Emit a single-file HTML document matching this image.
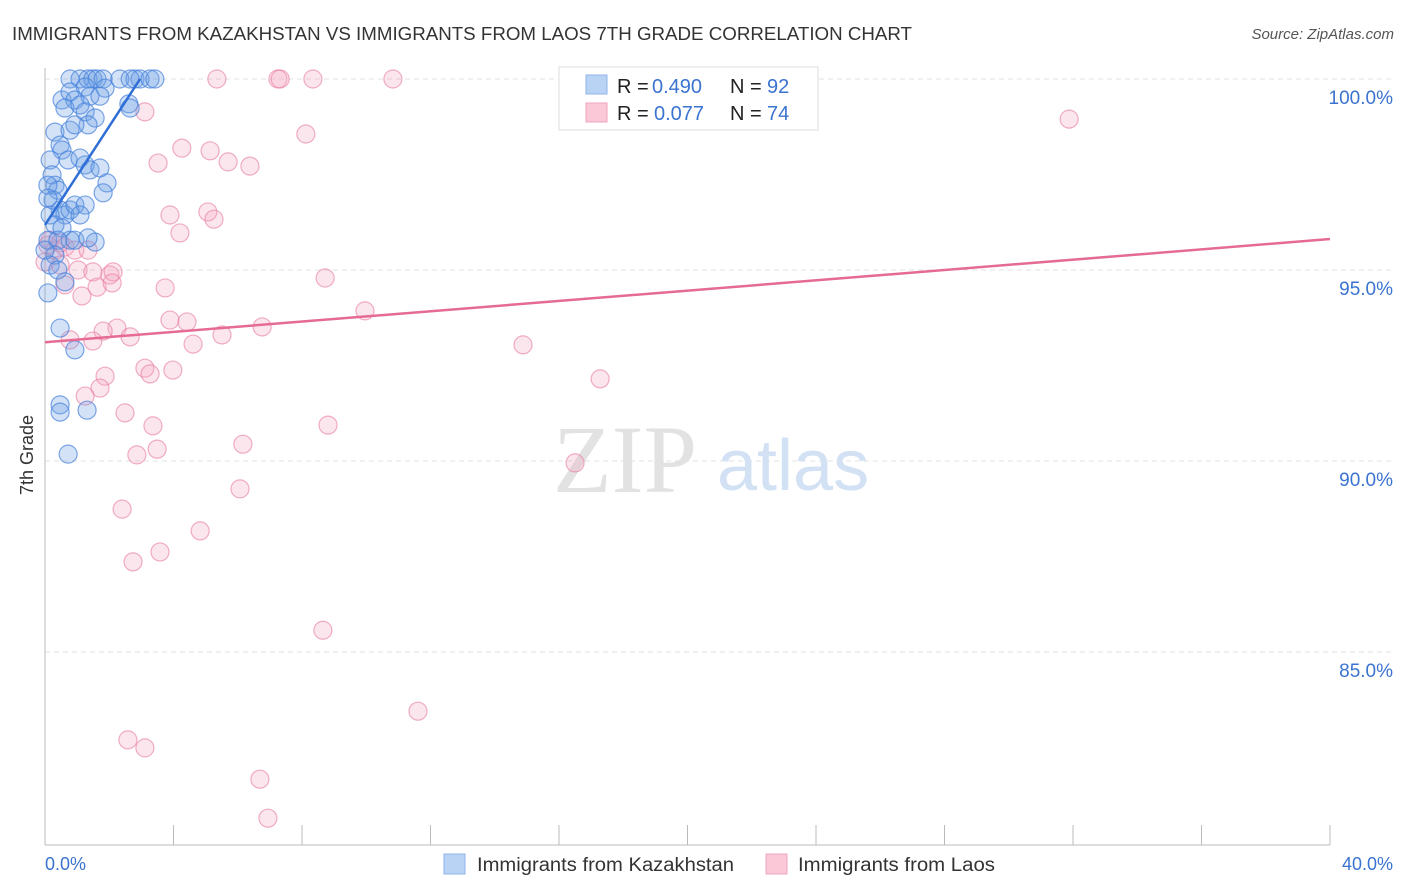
<!DOCTYPE html>
<html><head><meta charset="utf-8"><style>
body{margin:0;background:#fff;font-family:"Liberation Sans",sans-serif;}
svg{display:block}
</style></head><body>
<svg id="chart" width="1406" height="892" xmlns="http://www.w3.org/2000/svg">
<text x="12" y="40" font-size="18" fill="#333" textLength="900" lengthAdjust="spacingAndGlyphs">IMMIGRANTS FROM KAZAKHSTAN VS IMMIGRANTS FROM LAOS 7TH GRADE CORRELATION CHART</text>
<text x="1394" y="39" font-size="15" fill="#555" font-style="italic" text-anchor="end">Source: ZipAtlas.com</text>
<g id="grid"></g>
<g>
<text x="553" y="492" font-family="Liberation Serif,serif" font-size="96" fill="#e2e2e2">ZIP</text>
<text x="717" y="490" font-size="72" fill="#d3e1f4">atlas</text>
</g>
<line x1="45" y1="68" x2="45" y2="845" stroke="#bbb"/>
<line x1="45" y1="845" x2="1330" y2="845" stroke="#bbb"/>
<g id="xticks"></g>
<g id="yticks"></g>
<text transform="translate(33,455) rotate(-90)" font-size="18" fill="#333" text-anchor="middle">7th Grade</text>
<text x="45" y="870" font-size="18" fill="#3b73d0">0.0%</text>
<text x="1393" y="870" font-size="18" fill="#3b73d0" text-anchor="end">40.0%</text>
<g id="pink"></g>
<g id="blue"></g>
<g id="lines"></g>
<g>
<rect x="559" y="67" width="259" height="63" fill="#fff" stroke="#ddd"/>
<rect x="586" y="75" width="21" height="19" fill="#b9d3f5" stroke="#8fb3ea"/>
<rect x="586" y="103" width="21" height="19" fill="#fbc8d8" stroke="#f0a4bd"/>
<g font-size="20">
<text x="617" y="93" fill="#222">R =</text><text x="652" y="93" fill="#3b73d0">0.490</text>
<text x="730" y="93" fill="#222">N =</text><text x="767" y="93" fill="#3b73d0">92</text></g>
<g font-size="20">
<text x="617" y="120" fill="#222">R =</text><text x="654" y="120" fill="#3b73d0">0.077</text>
<text x="730" y="120" fill="#222">N =</text><text x="767" y="120" fill="#3b73d0">74</text></g>
</g>
<g>
<rect x="444" y="854" width="21" height="20" fill="#b9d3f5" stroke="#8fb3ea"/>
<text x="477" y="871" font-size="19" fill="#333" textLength="257" lengthAdjust="spacingAndGlyphs">Immigrants from Kazakhstan</text>
<rect x="766" y="854" width="21" height="20" fill="#fbc8d8" stroke="#f0a4bd"/>
<text x="798" y="871" font-size="19" fill="#333" textLength="197" lengthAdjust="spacingAndGlyphs">Immigrants from Laos</text>
</g>
</svg>
<script>
const yTicks=[100,95,90,85];
const yTickLabels=["100.0%","95.0%","90.0%","85.0%"];
const xTicks=[0,4,8,12,16,20,24,28,32,36,40];
const blueX=[0.78,1.09,1.34,1.49,1.62,1.81,2.33,2.80,2.96,3.27,3.42,1.25,1.87,2.65,0.53,0.78,0.93,1.40,1.71,0.62,1.09,1.25,1.56,1.34,2.61,2.65,0.31,0.47,0.78,0.93,0.53,0.72,1.09,1.25,1.40,1.71,1.93,1.81,0.16,0.22,0.31,0.40,0.09,0.47,0.62,0.78,0.93,1.25,1.09,0.16,0.31,0.53,0.09,0.40,0.78,0.93,1.56,1.34,0.31,0.16,0.40,0.62,0.09,0.47,0.93,0.47,0.47,1.31,0.72,0,0.25,0.09];
const blueY=[100,100,100,100,100,100,100,100,100,100,100,99.79,99.76,100,99.45,99.66,99.45,99.55,99.55,99.24,99.32,99.14,98.98,98.80,99.35,99.24,98.61,98.27,98.66,98.80,98.14,97.88,97.93,97.75,97.62,97.67,97.28,97.02,97.88,97.49,97.22,97.09,97.22,96.57,96.44,96.57,96.70,96.70,96.44,96.44,96.18,96.10,95.78,95.78,95.78,95.78,95.73,95.84,95.39,95.13,95.00,94.69,94.40,93.48,92.91,91.47,91.28,91.33,90.18,95.52,96.83,96.88];
const pinkX=[5.35,7.25,7.32,8.34,10.83,19.15,31.88,3.11,8.12,3.52,4.26,5.14,5.70,6.38,3.89,5.07,5.26,4.20,8.72,9.96,14.88,17.28,16.50,8.81,6.16,6.07,4.83,3.58,2.74,2.40,8.65,11.61,2.58,3.11,6.69,6.94,3.74,3.89,4.42,4.61,5.51,6.76,2.24,1.81,2.65,1.49,0.78,3.11,3.27,3.98,1.87,1.71,1.25,2.49,3.36,3.49,2.86,0.16,0.31,0.47,0.62,0.93,1.34,1.03,1.49,2.02,2.12,1.62,2.09,1.15,0.62,0.47,0,0.09];
const pinkY=[100,100,100,100,100,100,98.95,99.14,98.56,97.80,98.19,98.12,97.83,97.72,96.44,96.52,96.33,95.97,94.79,93.93,93.04,92.15,89.95,90.94,90.44,89.27,88.17,87.62,87.36,88.74,85.57,83.45,82.70,82.49,81.67,80.65,94.53,93.69,93.64,93.06,93.30,93.51,93.48,93.40,93.25,93.14,93.17,92.43,92.28,92.38,92.22,91.91,91.70,91.26,90.92,90.31,90.16,95.78,95.52,95.71,95.60,95.52,95.52,95.00,94.95,94.87,94.95,94.55,94.66,94.32,94.61,95.13,95.21,95.65];
const blueTrend=[[0,96.18],[2.96,100]];
const pinkTrend=[[0,93.11],[40,95.81]];
const NS="http://www.w3.org/2000/svg";
const xs=v=>45+v/40*1285;
const ys=v=>79+(100-v)*38.2;
function mk(t,a,p){const e=document.createElementNS(NS,t);for(const k in a)e.setAttribute(k,a[k]);p.appendChild(e);return e;}
const grid=document.getElementById('grid'),yt=document.getElementById('yticks'),xt=document.getElementById('xticks');
yTicks.forEach((v,i)=>{
 const l=mk('line',{x1:45,x2:1393,y1:ys(v),y2:ys(v),stroke:'#e0e0e0','stroke-dasharray':'5,4'},grid);
 
 
 const t=mk('text',{x:1393,y:ys(v)+25,'font-size':19,fill:'#3b73d0','text-anchor':'end'},yt);
 t.textContent=yTickLabels[i];
 
 
});
xTicks.forEach(v=>{
 const l=mk('line',{x1:xs(v),x2:xs(v),y1:825,y2:845,stroke:'#bbb'},xt);
 
 
});
const pg=document.getElementById('pink'),bg=document.getElementById('blue');
pinkX.forEach((x,i)=>{
 const c=mk('circle',{cx:xs(x),cy:ys(pinkY[i]),r:9,fill:'rgba(245,165,195,0.28)',stroke:'rgba(232,130,165,0.65)','stroke-width':1.2},pg);
 
 
});
blueX.forEach((x,i)=>{
 const c=mk('circle',{cx:xs(x),cy:ys(blueY[i]),r:9,fill:'rgba(110,160,230,0.3)',stroke:'rgba(70,130,220,0.7)','stroke-width':1.2},bg);
 
 
});
const lg=document.getElementById('lines');
const bl=mk('line',{x1:xs(blueTrend[0][0]),y1:ys(blueTrend[0][1]),x2:xs(blueTrend[1][0]),y2:ys(blueTrend[1][1]),stroke:'#2f6fd6','stroke-width':2.5},lg);


const pl=mk('line',{x1:xs(pinkTrend[0][0]),y1:ys(pinkTrend[0][1]),x2:xs(pinkTrend[1][0]),y2:ys(pinkTrend[1][1]),stroke:'#e56a94','stroke-width':2.5},lg);


</script>
</body></html>
